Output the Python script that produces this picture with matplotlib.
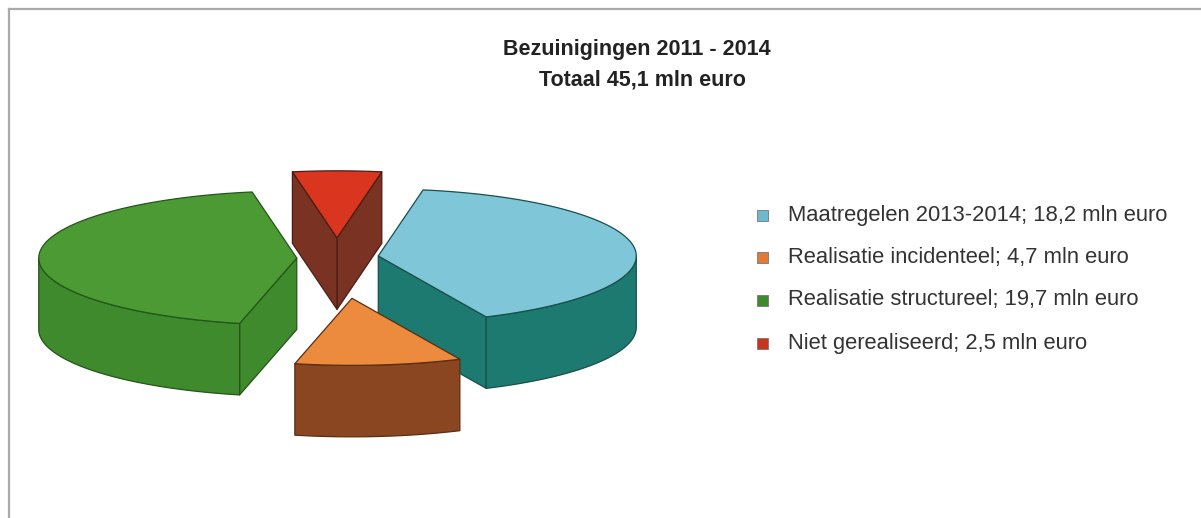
import numpy as np
import matplotlib.pyplot as plt
from matplotlib.patches import Polygon, Rectangle
from matplotlib.lines import Line2D

plt.rcParams["font.family"] = ["Liberation Sans", "DejaVu Sans"]

title_lines = ["Bezuinigingen 2011 - 2014", "Totaal 45,1 mln euro"]
categories = [
    "Maatregelen 2013-2014",
    "Realisatie incidenteel",
    "Realisatie structureel",
    "Niet gerealiseerd",
]
values = [18.2, 4.7, 19.7, 2.5]
value_labels = ["18,2", "4,7", "19,7", "2,5"]
unit = "mln euro"

top_colors = ["#7ec6d8", "#ec8a3e", "#4c9a34", "#d9351f"]
side_colors = ["#1d7a70", "#8a4620", "#3f8a2c", "#7a3322"]
edge_colors = ["#1a4f4a", "#5a2e12", "#24551a", "#4a1e14"]
legend_colors = ["#6cb8cc", "#e07a34", "#3f8a2c", "#c8321e"]

# exploded offset of each slice on screen, in pie-radius units
explode_xy = [(0.16, 0.004), (0.058, -0.16), (-0.156, -0.004), (0.0, 0.074)]
draw_order = [3, 2, 0, 1]  # back to front

RX, RY, DEPTH = 1.0, 0.26, 0.277
START = 80.0  # slices run clockwise from here (degrees)

W, H = 1201, 518
PX = 258.0  # pixels per pie radius
CX, CY = 337, 257  # pie centre in pixels (from top-left)


def arc(t0, t1, n=120):
    t = np.radians(np.linspace(t0, t1, n))
    return np.column_stack([RX * np.cos(t), RY * np.sin(t)])


def draw_slice(ax, lo, hi, off, top, side, edge):

    c = np.array(off)
    down = np.array([0.0, -DEPTH])
    kw = dict(edgecolor=edge, linewidth=0.9, joinstyle="round")

    # cut faces, only those turned toward the viewer
    for t, sign in ((lo, 1), (hi, -1)):
        r = np.radians(t)
        if sign * np.cos(r) > 0:
            p = c + [RX * np.cos(r), RY * np.sin(r)]
            ax.add_patch(Polygon([c, p, p + down, c + down], facecolor=side, **kw))

    # outer wall, front half only
    for k in (-360, 0, 360):
        a = max(lo, -180 + k)
        b = min(hi, 0 + k)
        if a < b:
            pts = c + arc(a, b)
            ax.add_patch(
                Polygon(np.vstack([pts, (pts + down)[::-1]]), facecolor=side, **kw)
            )

    # top face
    ax.add_patch(Polygon(np.vstack([c, c + arc(lo, hi)]), facecolor=top, **kw))


fig = plt.figure(figsize=(W / 100, H / 100), dpi=100)
ax = fig.add_axes([0, 0, 1, 1])
ax.set_xlim(-CX / PX, (W - CX) / PX)
ax.set_ylim(-(H - CY) / PX, CY / PX)
ax.axis("off")

total = sum(values)
bounds = []
hi = START
for v in values:
    lo = hi - v / total * 360.0
    bounds.append((lo, hi))
    hi = lo

for i in draw_order:
    lo, hi = bounds[i]
    draw_slice(ax, lo, hi, explode_xy[i], top_colors[i], side_colors[i], edge_colors[i])

# frame lines
fig.add_artist(Line2D([9 / W, 1], [1 - 9 / H, 1 - 9 / H], color="#aaaaaa", lw=1.6))
fig.add_artist(Line2D([9 / W, 9 / W], [0, 1 - 9 / H], color="#aaaaaa", lw=1.6))

# title
fig.text(637 / W, 1 - 50 / H, title_lines[0], ha="center", va="center",
         fontsize=15.5, fontweight="bold", color="#222222")
fig.text(642 / W, 1 - 80 / H, title_lines[1], ha="center", va="center",
         fontsize=15.5, fontweight="bold", color="#222222")

# legend
row_y = [215, 257, 300, 343]
for i, name in enumerate(categories):
    y = 1 - row_y[i] / H
    fig.add_artist(Rectangle((757 / W, y - 5.5 / H), 11 / W, 11 / H,
                             facecolor=legend_colors[i], edgecolor="#777777",
                             lw=0.6, transform=fig.transFigure))
    fig.text(788 / W, y, f"{name}; {value_labels[i]} {unit}", ha="left",
             va="center", fontsize=15.8, color="#333333")

fig.savefig("out.png", dpi=100)
